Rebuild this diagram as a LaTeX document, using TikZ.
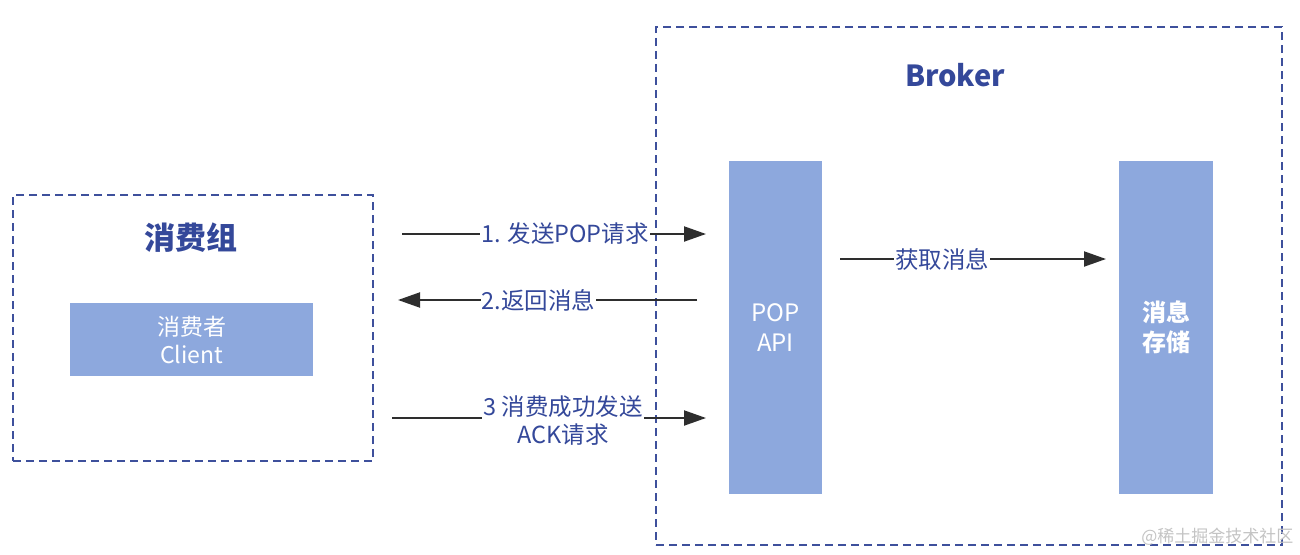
\documentclass[tikz,border=0pt]{standalone}
\usepackage{fontspec}
\setmainfont{Noto Sans CJK SC}
\usetikzlibrary{arrows.meta}
\definecolor{dkblue}{HTML}{34489A}
\definecolor{barblue}{HTML}{8DA8DD}
\definecolor{dashblue}{HTML}{3E509C}
\definecolor{arrowgray}{HTML}{2E2E2E}
\definecolor{wmgray}{HTML}{C4C4C4}
\tikzset{
  groupbox/.style={draw=dashblue, line width=1.4pt, dash pattern=on 8pt off 5pt, fill=none},
  bar/.style={fill=barblue, draw=none, text=white, align=center, font=\fontsize{23}{28}\selectfont},
  conn/.style={draw=arrowgray, line width=2pt, -{Triangle[length=22pt,width=15pt]}},
  lbl/.style={fill=white, text=dkblue, inner sep=1pt, align=center, font=\fontsize{23.5}{28}\selectfont},
  title/.style={text=dkblue, font=\fontsize{29}{32}\selectfont\bfseries}
}
\begin{document}
\begin{tikzpicture}[x=1pt,y=-1pt]
\useasboundingbox (0,0) rectangle (1300,554);
\fill[white] (0,0) rectangle (1300,554);
% group boxes
\node[groupbox, minimum width=360pt, minimum height=266pt, inner sep=0pt] (grp) at (193,328) {};
\node[groupbox, minimum width=626pt, minimum height=518pt, inner sep=0pt] (broker) at (969,286) {};
\node[title, font=\fontsize{31}{34}\selectfont\bfseries] (grptitle) at (191,238) {消费组};
\node[title] (brokertitle) at (955,75) {Broker};
% boxes
\node[bar, minimum width=243pt, minimum height=73pt, inner sep=0pt] (client) at (191.5,339.5) {消费者\\Client};
\node[bar, minimum width=93pt, minimum height=333pt, inner sep=0pt, font=\fontsize{24}{30}\selectfont] (pop) at (775.5,327.5) {POP\\API};
\node[bar, minimum width=94pt, minimum height=333pt, inner sep=0pt, font=\fontsize{24}{30}\selectfont\bfseries] (store) at (1166,327.5) {消息\\存储};
% connector endpoints
\coordinate (a1s) at (402,234);
\coordinate (a1e) at (706,234);
\coordinate (a2s) at (697,300);
\coordinate (a2e) at (398,300);
\coordinate (a3s) at (392,418);
\coordinate (a3e) at (706,418);
\coordinate (a4s) at (840,259);
\coordinate (a4e) at (1106,259);
% connectors
\draw[conn] (a1s) -- node[lbl, pos=0.536] (l1) {1. 发送POP请求} (a1e);
\draw[conn] (a2s) -- node[lbl, pos=0.53] (l2) {2.返回消息} (a2e);
\draw[conn] (a3s) -- node[lbl, pos=0.545, yshift=-3pt] (l3) {3 消费成功发送\\ACK请求} (a3e);
\draw[conn] (a4s) -- node[lbl, pos=0.385] (l4) {获取消息} (a4e);
% watermark
\node[text=wmgray, font=\fontsize{17}{20}\selectfont, anchor=east] (wm) at (1297,537) {@稀土掘金技术社区};
\end{tikzpicture}
\end{document}
